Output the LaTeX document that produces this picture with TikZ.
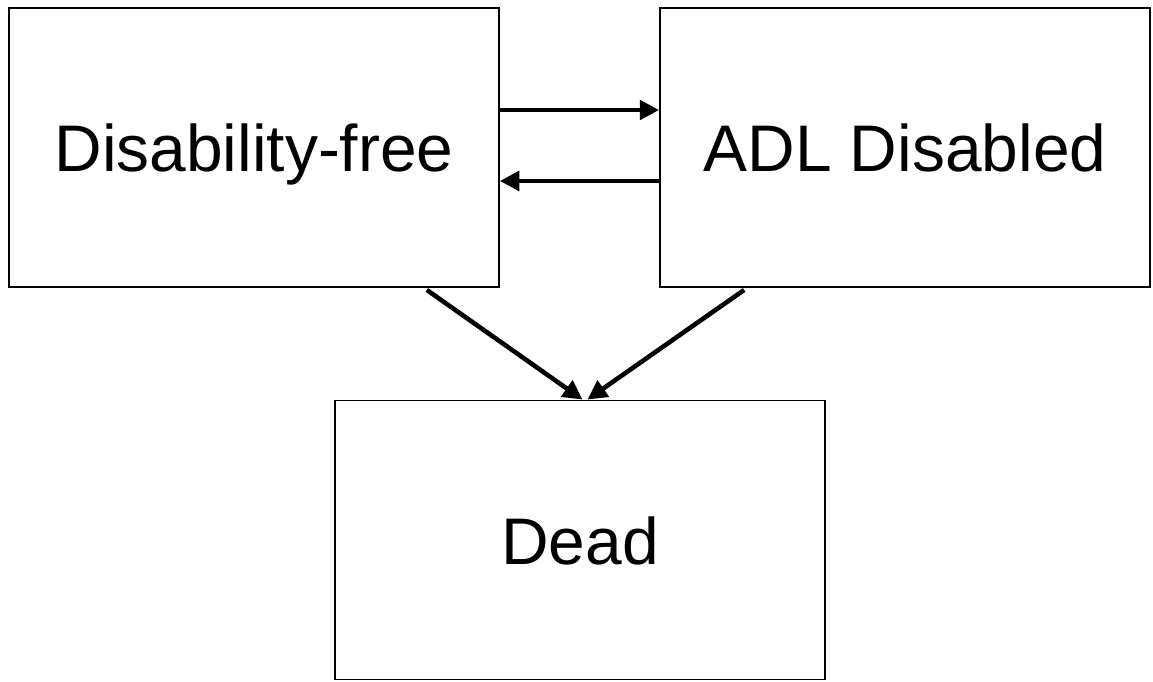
\documentclass[tikz,border=0pt]{standalone}
\usepackage{fontspec}
\setmainfont{Liberation Sans}
\usetikzlibrary{arrows.meta,positioning}
\tikzset{
  state box/.style={rectangle,draw=black,line width=1.1pt,minimum width=9.8cm,minimum height=5.58cm,inner sep=0pt,text height=0.98cm,text depth=0pt,font=\fontsize{37.5}{42}\selectfont},
  transedge/.style={-{Triangle[length=11pt,width=11pt]},draw=black,line width=2.6pt}
}
\begin{document}
\begin{tikzpicture}[x=0.02cm,y=-0.02cm]
  \useasboundingbox (0,0) rectangle (1153,682);
  \node[state box] (free) at (254,147.5) {Disability-free};
  \node[state box] (adl)  at (905,147.5) {ADL Disabled};
  \node[state box] (dead) at (580,540) {Dead};

  % transitions between the living states
  \draw[transedge] ([yshift=0.75cm]free.east) -- ([yshift=0.75cm]adl.west);
  \draw[transedge] ([yshift=-0.67cm]adl.west) -- ([yshift=-0.67cm]free.east);

  % transitions to death
  \draw[transedge,shorten <=2pt] ([xshift=3.4cm]free.south) -- ([xshift=0.05cm]dead.north);
  \draw[transedge,shorten <=2pt] ([xshift=-3.16cm]adl.south) -- ([xshift=0.15cm]dead.north);
\end{tikzpicture}
\end{document}
